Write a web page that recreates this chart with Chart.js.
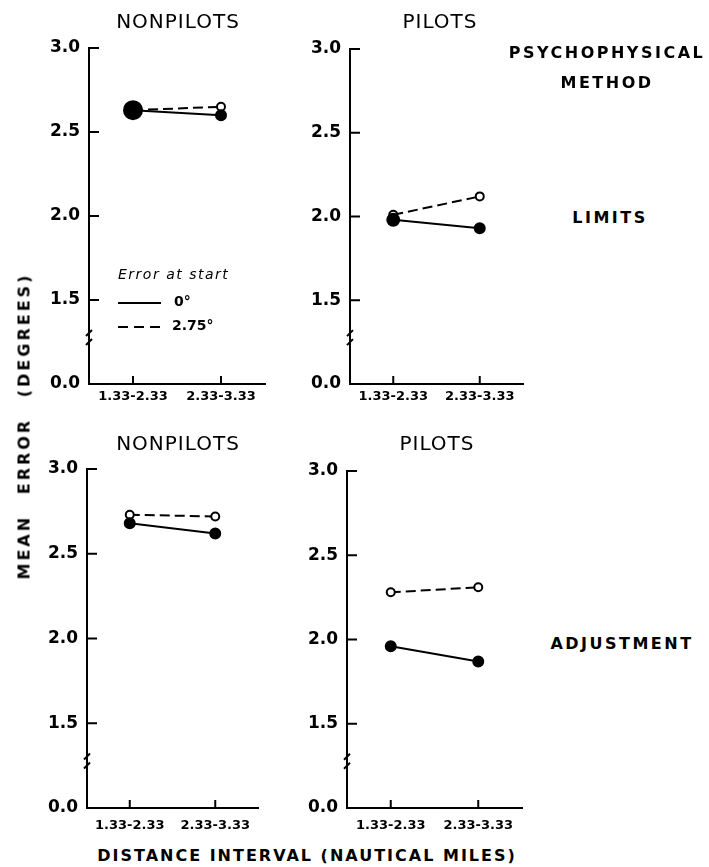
<!DOCTYPE html>
<html lang="en">
<head>
  <meta charset="UTF-8">
  <title>Mean error by distance interval</title>
  <script src="https://cdn.jsdelivr.net/npm/chart.js"></script>
  <style>
    body { margin: 0; background: #fff; font-family: "DejaVu Sans", sans-serif; color: #000; }
    #page { position: relative; width: 709px; height: 867px; overflow: hidden; }
    canvas { position: absolute; }
    .lbl { position: absolute; white-space: nowrap; transform: translate(-50%, -50%); }
    .panel-title { font-size: 20px; letter-spacing: 1px; }
    .side { font-size: 16px; font-weight: bold; letter-spacing: 2.5px; }
    .legend { position: absolute; font-weight: bold; font-size: 14px; }
    .legend .key { position: absolute; left: 0; width: 43px; height: 2px; }
  </style>
</head>
<body>
<div id="page">
  <canvas id="limitsNonpilots" width="285" height="420" style="left:0px; top:0px;"></canvas>
  <canvas id="limitsPilots" width="265" height="420" style="left:270px; top:0px;"></canvas>
  <canvas id="adjustNonpilots" width="280" height="400" style="left:0px; top:440px;"></canvas>
  <canvas id="adjustPilots" width="265" height="400" style="left:270px; top:440px;"></canvas>

  <div class="lbl panel-title" style="left:178px; top:21px;">NONPILOTS</div>
  <div class="lbl panel-title" style="left:440px; top:21px;">PILOTS</div>
  <div class="lbl panel-title" style="left:178px; top:443px;">NONPILOTS</div>
  <div class="lbl panel-title" style="left:437px; top:443px;">PILOTS</div>

  <div class="lbl side" style="left:607px; top:52px;">PSYCHOPHYSICAL</div>
  <div class="lbl side" style="left:607px; top:82px;">METHOD</div>
  <div class="lbl side" style="left:610px; top:217px;">LIMITS</div>
  <div class="lbl side" style="left:622px; top:643px;">ADJUSTMENT</div>

  <div class="lbl side" style="left:307px; top:855px; letter-spacing:2px;">DISTANCE INTERVAL (NAUTICAL MILES)</div>
  <div class="lbl side" style="left:24px; top:426px; transform: translate(-50%, -50%) rotate(-90deg); letter-spacing:3px; word-spacing:12px;">MEAN ERROR (DEGREES)</div>

  <!-- legend inside the top-left panel -->
  <div class="legend" style="left:118px; top:266px; width:140px; height:70px;">
    <div style="position:absolute; left:0; top:0; font-style:italic; font-weight:normal; letter-spacing:1.5px;">Error at start</div>
    <div class="key" style="top:36px; background:#000;"></div>
    <div style="position:absolute; left:56px; top:27px;">0°</div>
    <div class="key" style="top:60px; background:repeating-linear-gradient(90deg,#000 0 10px,transparent 10px 16px);"></div>
    <div style="position:absolute; left:54px; top:51px;">2.75°</div>
  </div>
</div>

<script>
  // distance intervals (nautical miles)
  const intervals = ['1.33-2.33', '2.33-3.33'];

  // y axis is broken: the bottom tick (drawn at 1.0) is labelled 0.0
  const yTickValues = [1.0, 1.5, 2.0, 2.5, 3.0];
  const yTickLabels = ['0.0', '1.5', '2.0', '2.5', '3.0'];
  const breakValue = 1.28;

  // mean error (degrees), error at start 0° and 2.75°
  const limitsNonpilots0 = [2.63, 2.60];
  const limitsNonpilots275 = [2.63, 2.65];
  const limitsPilots0 = [1.98, 1.93];
  const limitsPilots275 = [2.01, 2.12];
  const adjustNonpilots0 = [2.68, 2.62];
  const adjustNonpilots275 = [2.73, 2.72];
  const adjustPilots0 = [1.96, 1.87];
  const adjustPilots275 = [2.28, 2.31];

  Chart.defaults.font.family = 'DejaVu Sans';
  Chart.defaults.color = '#000';

  // inward ticks, small x ticks and the axis break mark
  const axisMarks = {
    id: 'axisMarks',
    afterDraw(chart) {
      const {ctx, chartArea: a, scales: {x, y}} = chart;
      ctx.save();
      ctx.strokeStyle = '#000';
      ctx.lineWidth = 2;
      ctx.beginPath();
      y.ticks.forEach(t => {
        if (t.value > y.min) {
          const py = y.getPixelForValue(t.value);
          ctx.moveTo(a.left, py);
          ctx.lineTo(a.left + 10, py);
        }
      });
      x.ticks.forEach((t, i) => {
        const px = x.getPixelForTick(i);
        ctx.moveTo(px, a.bottom);
        ctx.lineTo(px, a.bottom - 8);
      });
      const pb = y.getPixelForValue(breakValue);
      ctx.moveTo(a.left - 3, pb + 8);
      ctx.lineTo(a.left + 3, pb + 2);
      ctx.moveTo(a.left - 3, pb - 1);
      ctx.lineTo(a.left + 3, pb - 7);
      ctx.stroke();
      ctx.restore();
    }
  };

  function makePanel(id, box, area, solid, dashed, solidRadius, xPad) {
    new Chart(document.getElementById(id), {
      type: 'line',
      data: {
        labels: intervals,
        datasets: [{
          label: '0°',
          data: solid,
          borderColor: '#000',
          borderWidth: 2,
          pointBackgroundColor: '#000',
          pointBorderColor: '#000',
          pointRadius: solidRadius,
          tension: 0
        }, {
          label: '2.75°',
          data: dashed,
          borderColor: '#000',
          borderWidth: 2,
          borderDash: [10, 5],
          pointBackgroundColor: '#fff',
          pointBorderColor: '#000',
          pointBorderWidth: 2,
          pointRadius: 4,
          tension: 0
        }]
      },
      options: {
        responsive: false,
        animation: false,
        clip: false,
        layout: {
          padding: {left: 0, bottom: 0, top: area.t - box.y, right: box.x + box.w - area.r}
        },
        plugins: {
          legend: {display: false},
          tooltip: {enabled: false}
        },
        scales: {
          x: {
            type: 'category',
            offset: true,
            grid: {display: false, drawTicks: false},
            border: {display: true, color: '#000', width: 2},
            ticks: {padding: xPad, maxRotation: 0, autoSkip: false, font: {size: 13, weight: 'bold'}},
            afterFit: s => { s.height = box.y + box.h - area.b; }
          },
          y: {
            min: 1.0,
            max: 3.0,
            grid: {display: false, drawTicks: false},
            border: {display: true, color: '#000', width: 2},
            afterBuildTicks: s => { s.ticks = yTickValues.map(v => ({value: v})); },
            ticks: {
              padding: 9,
              font: {size: 17, weight: 'bold'},
              callback: (v) => yTickLabels[yTickValues.indexOf(v)]
            },
            afterFit: s => { s.width = area.l - box.x; }
          }
        }
      },
      plugins: [axisMarks]
    });
  }

  makePanel('limitsNonpilots', {x: 0, y: 0, w: 285, h: 420}, {l: 89, r: 265, t: 48, b: 384},
    limitsNonpilots0, limitsNonpilots275, [9, 5], 5);
  makePanel('limitsPilots', {x: 270, y: 0, w: 265, h: 420}, {l: 350, r: 523, t: 49, b: 384},
    limitsPilots0, limitsPilots275, [6, 5], 5);
  makePanel('adjustNonpilots', {x: 0, y: 440, w: 280, h: 400}, {l: 87, r: 258, t: 469, b: 808},
    adjustNonpilots0, adjustNonpilots275, [5, 5], 10);
  makePanel('adjustPilots', {x: 270, y: 440, w: 265, h: 400}, {l: 347, r: 522, t: 471, b: 808},
    adjustPilots0, adjustPilots275, [5, 5], 10);
</script>
</body>
</html>
